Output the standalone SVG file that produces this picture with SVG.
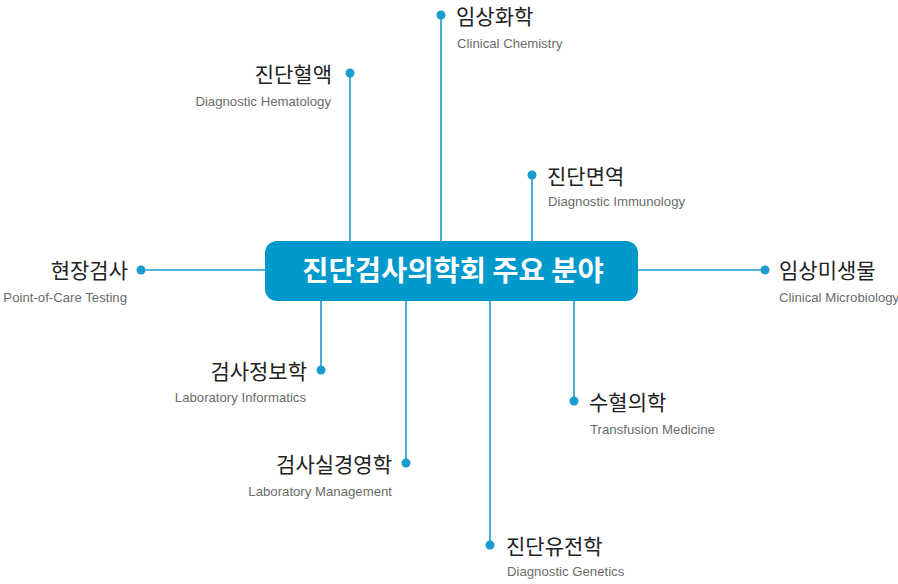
<svg xmlns="http://www.w3.org/2000/svg" width="898" height="584" viewBox="0 0 898 584">
<style>
.ln{stroke:#1a9ccd;stroke-width:1.6;fill:none}
.dot{fill:#1a9ccd}
.ko{font-family:"Noto Sans CJK KR","Noto Sans",sans-serif;font-size:21px;fill:#222}
.en{font-family:"Liberation Sans",Arial,sans-serif;font-size:13.2px;fill:#6b6b6b}
.title{font-family:"Noto Sans CJK KR","Noto Sans",sans-serif;font-size:28.5px;font-weight:bold;fill:#fff}
</style>
<rect width="898" height="584" fill="#fff"/>
<g id="connectors">
<line class="ln" x1="141" y1="270" x2="265" y2="270"/>
<line class="ln" x1="638" y1="270" x2="765" y2="270"/>
<line class="ln" x1="350" y1="73" x2="350" y2="241"/>
<line class="ln" x1="441" y1="15" x2="441" y2="241"/>
<line class="ln" x1="532" y1="175" x2="532" y2="241"/>
<line class="ln" x1="321" y1="301" x2="321" y2="370"/>
<line class="ln" x1="406" y1="301" x2="406" y2="463"/>
<line class="ln" x1="490" y1="301" x2="490" y2="545"/>
<line class="ln" x1="574" y1="301" x2="574" y2="401"/>
</g>
<g id="center">
<rect x="265" y="241" width="373" height="60" rx="12" fill="#0099cc"/>
<text class="title" x="453" y="281" text-anchor="middle">진단검사의학회 주요 분야</text>
</g>
<g id="poc">
<circle class="dot" cx="141" cy="270" r="4.5"/>
<text class="ko" x="128" y="278" text-anchor="end">현장검사</text>
<text class="en" x="127" y="302" text-anchor="end">Point-of-Care Testing</text>
</g>
<g id="hematology">
<circle class="dot" cx="350" cy="73" r="4.5"/>
<text class="ko" x="332" y="82" text-anchor="end">진단혈액</text>
<text class="en" x="331" y="106" text-anchor="end">Diagnostic Hematology</text>
</g>
<g id="chemistry">
<circle class="dot" cx="441" cy="15" r="4.5"/>
<text class="ko" x="456" y="24">임상화학</text>
<text class="en" x="457" y="48">Clinical Chemistry</text>
</g>
<g id="immunology">
<circle class="dot" cx="532" cy="175" r="4.5"/>
<text class="ko" x="547" y="184">진단면역</text>
<text class="en" x="548" y="206">Diagnostic Immunology</text>
</g>
<g id="microbiology">
<circle class="dot" cx="765" cy="270" r="4.5"/>
<text class="ko" x="779" y="278">임상미생물</text>
<text class="en" x="779" y="302">Clinical Microbiology</text>
</g>
<g id="informatics">
<circle class="dot" cx="321" cy="370" r="4.5"/>
<text class="ko" x="307" y="379" text-anchor="end">검사정보학</text>
<text class="en" x="306" y="402" text-anchor="end">Laboratory Informatics</text>
</g>
<g id="management">
<circle class="dot" cx="406" cy="463" r="4.5"/>
<text class="ko" x="392" y="472" text-anchor="end">검사실경영학</text>
<text class="en" x="392" y="496" text-anchor="end">Laboratory Management</text>
</g>
<g id="genetics">
<circle class="dot" cx="490" cy="545" r="4.5"/>
<text class="ko" x="506" y="554">진단유전학</text>
<text class="en" x="507" y="576">Diagnostic Genetics</text>
</g>
<g id="transfusion">
<circle class="dot" cx="574" cy="401" r="4.5"/>
<text class="ko" x="589" y="410">수혈의학</text>
<text class="en" x="590" y="434">Transfusion Medicine</text>
</g>
</svg>
